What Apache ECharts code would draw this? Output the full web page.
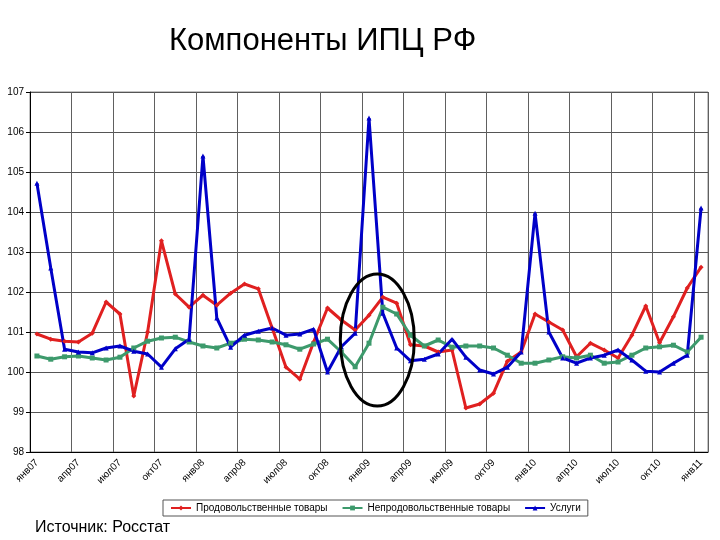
<!DOCTYPE html>
<html>
<head>
<meta charset="utf-8">
<script src="https://cdn.jsdelivr.net/npm/echarts@6/dist/echarts.min.js"></script>
<style>html,body{margin:0;padding:0;background:#fff;}#c{width:720px;height:540px;}</style>
</head>
<body>
<div id="c"></div>
<script>
const months = ['янв07','фев07','мар07','апр07','май07','июн07','июл07','авг07','сен07','окт07','ноя07','дек07',
'янв08','фев08','мар08','апр08','май08','июн08','июл08','авг08','сен08','окт08','ноя08','дек08',
'янв09','фев09','мар09','апр09','май09','июн09','июл09','авг09','сен09','окт09','ноя09','дек09',
'янв10','фев10','мар10','апр10','май10','июн10','июл10','авг10','сен10','окт10','ноя10','дек10','янв11'];

const food = [100.95,100.82,100.77,100.75,100.97,101.75,101.45,99.4,101.0,103.28,101.95,101.62,
101.92,101.67,101.97,102.2,102.08,101.1,100.12,99.82,100.75,101.6,101.3,101.05,
101.42,101.87,101.72,100.68,100.65,100.5,100.55,99.1,99.2,99.47,100.27,100.5,
101.45,101.25,101.05,100.38,100.72,100.55,100.35,100.92,101.65,100.73,101.38,102.1,102.62];

const nonfood = [100.4,100.32,100.38,100.4,100.35,100.3,100.37,100.6,100.77,100.85,100.87,100.75,
100.65,100.6,100.72,100.82,100.8,100.75,100.68,100.57,100.7,100.82,100.5,100.13,
100.72,101.62,101.45,100.92,100.65,100.8,100.62,100.65,100.65,100.6,100.42,100.22,
100.22,100.3,100.38,100.35,100.42,100.22,100.25,100.42,100.6,100.63,100.67,100.5,100.87];

const services = [104.72,102.6,100.57,100.5,100.48,100.6,100.65,100.52,100.45,100.12,100.58,100.82,
105.4,101.35,100.62,100.92,101.02,101.1,100.92,100.95,101.07,100.0,100.63,100.97,
106.35,101.47,100.6,100.28,100.32,100.45,100.82,100.37,100.05,99.95,100.12,100.5,
103.97,101.0,100.35,100.22,100.35,100.42,100.55,100.3,100.02,100.0,100.22,100.42,104.1];

const seriesNames = ['Продовольственные товары','Непродовольственные товары','Услуги'];
const yTicks = [98,99,100,101,102,103,104,105,106,107];

const chart = echarts.init(document.getElementById('c'), null, {renderer:'canvas'});
const font = 'Liberation Sans, Arial, sans-serif';
function mk(name, data, color, symbol, size){
  return {name, type:'line', data, symbol, symbolSize:size, showSymbol:true,
    lineStyle:{color, width:3}, itemStyle:{color}, z:3};
}
chart.setOption({
  animation:false,
  textStyle:{fontFamily:font},
  title:{text:'Компоненты ИПЦ РФ', left:164, top:21, textStyle:{fontFamily:font, fontSize:31, fontWeight:'normal', color:'#000'}},
  grid:{left:30, right:12, top:92, bottom:88, show:true, borderColor:'#888', borderWidth:1},
  legend:{left:163, top:500, data:seriesNames, borderColor:'#555', borderWidth:1, padding:[3,7,3,7],
    itemWidth:20, itemHeight:6, itemGap:14, textStyle:{fontFamily:font, fontSize:10, color:'#000'}},
  xAxis:{type:'category', data:months, boundaryGap:true,
    axisLine:{lineStyle:{color:'#000', width:1}},
    axisTick:{interval:2, length:4, lineStyle:{color:'#000'}},
    axisLabel:{interval:2, rotate:45, fontSize:10, color:'#000', fontFamily:font, margin:9},
    splitLine:{show:true, interval:2, lineStyle:{color:'#606060', width:1}}},
  yAxis:{type:'value', min:98, max:107, interval:1,
    axisLine:{show:true, lineStyle:{color:'#000'}},
    axisTick:{show:true, length:4, lineStyle:{color:'#000'}},
    axisLabel:{fontSize:10, color:'#000', fontFamily:font, margin:6,
      formatter:v=> yTicks.includes(v)? String(v):''},
    splitLine:{show:true, lineStyle:{color:'#555', width:1}}},
  series:[
    mk(seriesNames[0], food, '#e02020', 'diamond', 5),
    mk(seriesNames[1], nonfood, '#3d9a6c', 'rect', 5),
    mk(seriesNames[2], services, '#0000c8', 'triangle', 5)
  ]
});
// Annotation ellipse around Jan-Feb 2009
const a = chart.convertToPixel({xAxisIndex:0, yAxisIndex:0}, [24, 100.8]);
const b = chart.convertToPixel({xAxisIndex:0, yAxisIndex:0}, [25, 99.15]);
const cx = a[0] + 0.6*(b[0]-a[0]);
const cy = a[1];
const ry = b[1]-a[1];
chart.setOption({graphic:[
  {type:'ellipse', shape:{cx:cx, cy:cy, rx:37, ry:ry}, style:{fill:'none', stroke:'#000', lineWidth:3}, z:10},
  {type:'text', left:35, top:520, style:{text:'Источник: Росстат', font:'16px Liberation Sans, Arial, sans-serif', fill:'#000'}}
]});
</script>
</body>
</html>
